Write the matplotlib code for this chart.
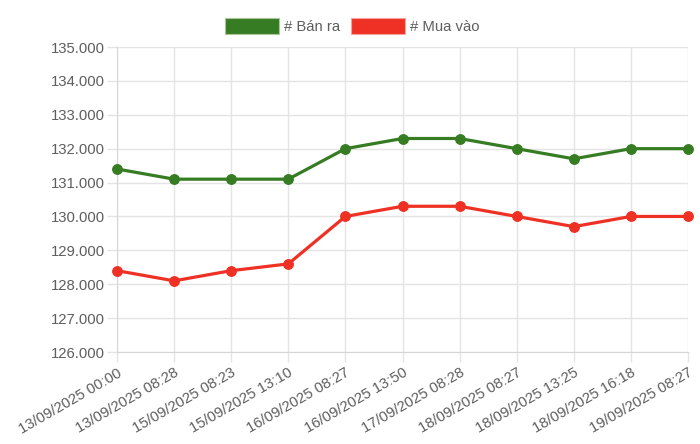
import matplotlib
matplotlib.use("Agg")
import matplotlib.pyplot as plt
from matplotlib.patches import Patch
from matplotlib.ticker import FuncFormatter, MultipleLocator

labels = ["13/09/2025 00:00", "13/09/2025 08:28", "15/09/2025 08:23", "15/09/2025 13:10",
          "16/09/2025 08:27", "16/09/2025 13:50", "17/09/2025 08:28", "18/09/2025 08:27",
          "18/09/2025 13:25", "18/09/2025 16:18", "19/09/2025 08:27"]
ban_ra = [131400, 131100, 131100, 131100, 132000, 132300, 132300, 132000, 131700, 132000, 132000]
mua_vao = [128400, 128100, 128400, 128600, 130000, 130300, 130300, 130000, 129700, 130000, 130000]
series_names = ["# Bán ra", "# Mua vào"]

green = "#367c23"
red = "#ee3124"
grid_c = "#e4e4e4"
text_c = "#5e5e5e"
fs = 10.75

plt.rcParams['font.family'] = ['Liberation Sans', 'DejaVu Sans']

fig = plt.figure(figsize=(7, 4.44), dpi=100)
ax = fig.add_axes([117/700, 1-352/444, (688-117)/700, (352-47)/444])

x = list(range(len(labels)))
ax.plot(x, ban_ra, color=green, lw=2.3, marker='o', ms=6.8, zorder=3, clip_on=False)
ax.plot(x, mua_vao, color=red, lw=2.3, marker='o', ms=6.8, zorder=3, clip_on=False)

ax.set_xlim(0, len(labels)-1)
ax.set_ylim(126000, 135000)
ax.yaxis.set_major_locator(MultipleLocator(1000))
ax.yaxis.set_major_formatter(FuncFormatter(lambda v, p: f"{int(v):,}".replace(",", ".")))
ax.set_xticks(x)
ax.set_xticklabels(labels, rotation=30, ha='right', rotation_mode='anchor')

ax.grid(True, color=grid_c, lw=1)
ax.set_axisbelow(True)
for s in ['top', 'right']:
    ax.spines[s].set_visible(False)
for s in ['left', 'bottom']:
    ax.spines[s].set_color('#d6d6d6')
ax.tick_params(axis='both', colors=grid_c, labelcolor=text_c, labelsize=fs, length=7, width=1)
ax.tick_params(axis='x', pad=3)
ax.tick_params(axis='y', pad=2)

handles = [Patch(facecolor=green, edgecolor='#a8c79a', lw=0.8),
           Patch(facecolor=red, edgecolor='#f5a39c', lw=0.8)]
leg = fig.legend(handles, series_names, loc='center', bbox_to_anchor=(352/700, 1-26/444), ncol=2,
                 frameon=False, fontsize=fs, handlelength=3.6, handleheight=1.25,
                 handletextpad=0.33, columnspacing=0.75, borderaxespad=0)
for t in leg.get_texts():
    t.set_color(text_c)

fig.savefig("out.png", dpi=100)
